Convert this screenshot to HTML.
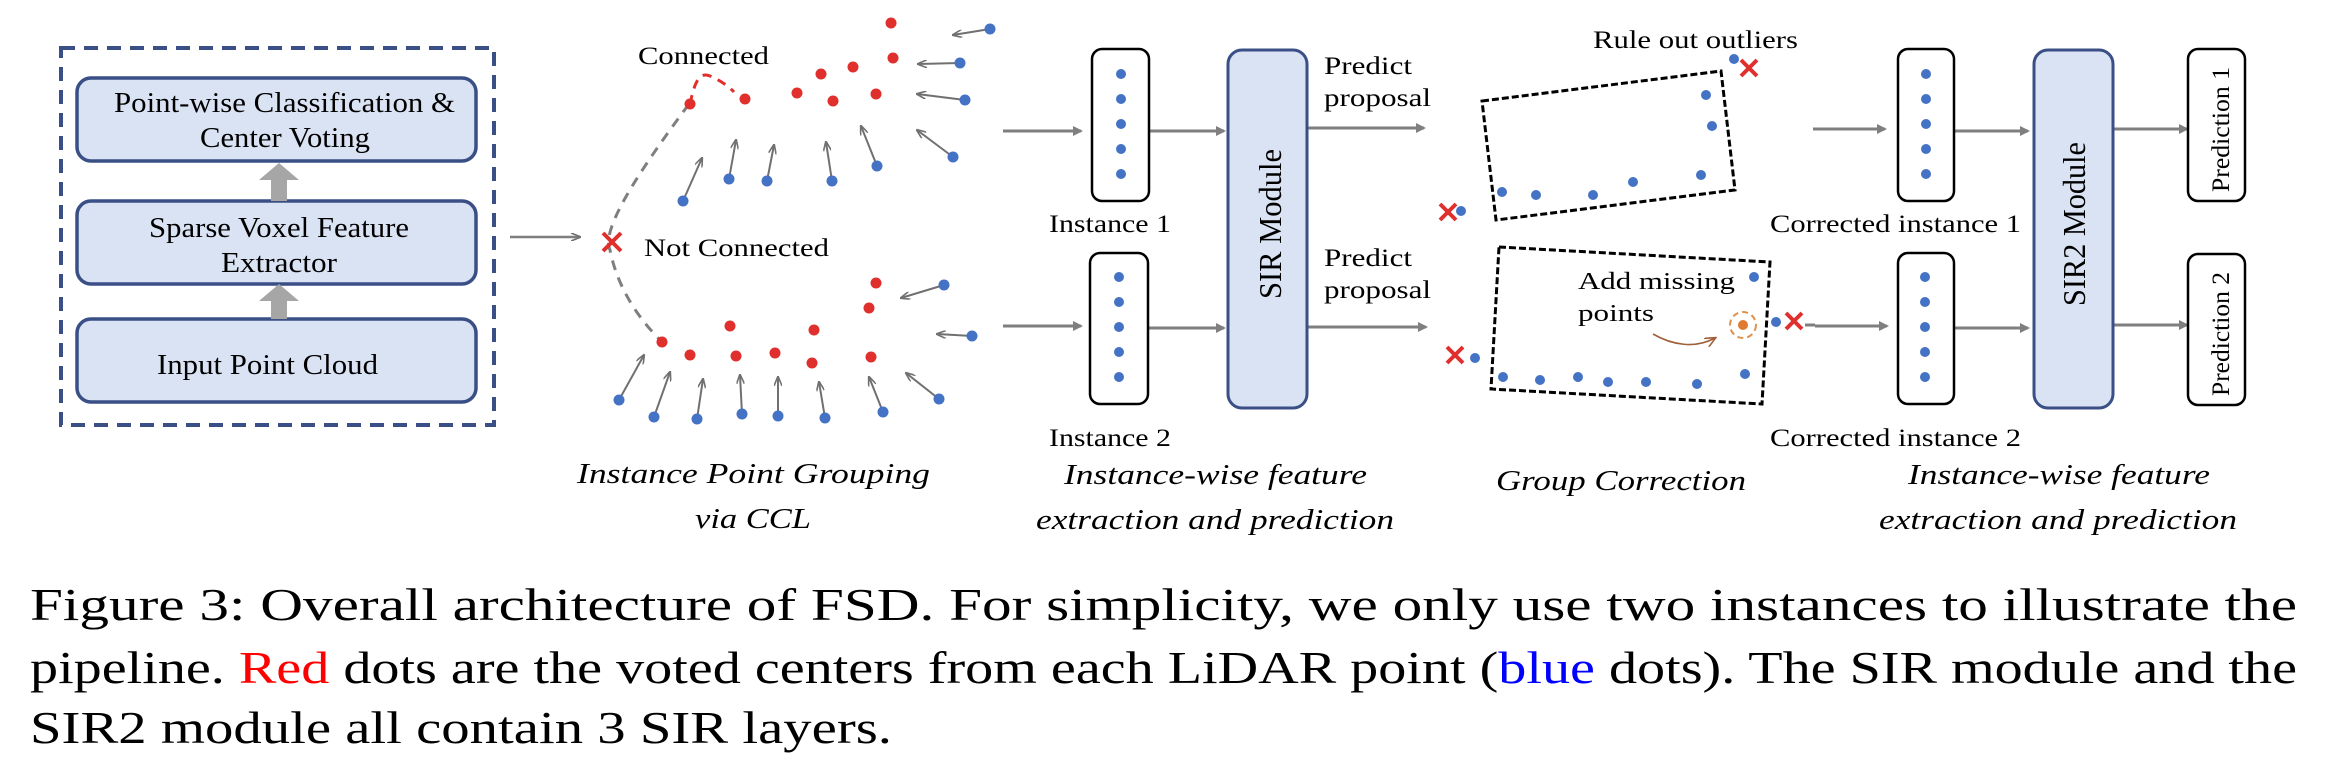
<!DOCTYPE html>
<html><head><meta charset="utf-8"><style>
html,body{margin:0;padding:0;background:#fff;}
svg{display:block;font-family:"Liberation Serif","Times New Roman",Times,serif;}
svg text{font-family:"Liberation Serif","Times New Roman",Times,serif;fill:#000;}
</style></head><body>
<svg width="2331" height="766" viewBox="0 0 2331 766" xmlns="http://www.w3.org/2000/svg" font-family="Liberation Serif, Times New Roman, serif">
<defs>
<marker id="ag" markerWidth="10" markerHeight="10" refX="8" refY="5" orient="auto" markerUnits="userSpaceOnUse"><path d="M0,0 L10,5 L0,10 z" fill="#7f7f7f"/></marker>
<marker id="as" markerWidth="10" markerHeight="8" refX="9" refY="4" orient="auto" markerUnits="userSpaceOnUse"><path d="M0,0 L10,4 L0,8" fill="none" stroke="#707070" stroke-width="1.6"/></marker>
<marker id="ab" markerWidth="12" markerHeight="10" refX="10" refY="5" orient="auto" markerUnits="userSpaceOnUse"><path d="M0,0 L11,5 L0,10" fill="none" stroke="#a0603a" stroke-width="1.6"/></marker>
</defs>

<rect x="61" y="48" width="433" height="377" fill="none" stroke="#3a4f85" stroke-width="4" stroke-dasharray="14,9"/>
<rect x="77" y="78" width="399" height="83" rx="14" fill="#dae3f3" stroke="#3a4f85" stroke-width="3.5"/>
<rect x="77" y="201" width="399" height="83" rx="14" fill="#dae3f3" stroke="#3a4f85" stroke-width="3.5"/>
<rect x="77" y="319" width="399" height="83" rx="14" fill="#dae3f3" stroke="#3a4f85" stroke-width="3.5"/>
<path d="M271,201 V180 H259 L279,163 L299,180 H287 V201 z" fill="#a6a6a6"/>
<path d="M271,319 V301 H259 L279,284 L299,301 H287 V319 z" fill="#a6a6a6"/>
<text x="114" y="112" font-size="28" textLength="341" lengthAdjust="spacingAndGlyphs">Point-wise Classification &amp;</text>
<text x="200" y="147" font-size="28" textLength="170" lengthAdjust="spacingAndGlyphs">Center Voting</text>
<text x="149" y="237" font-size="28" textLength="260" lengthAdjust="spacingAndGlyphs">Sparse Voxel Feature</text>
<text x="221" y="272" font-size="28" textLength="116" lengthAdjust="spacingAndGlyphs">Extractor</text>
<text x="157" y="374" font-size="28" textLength="221" lengthAdjust="spacingAndGlyphs">Input Point Cloud</text>

<line x1="510" y1="237" x2="580" y2="237" stroke="#7f7f7f" stroke-width="2.5" marker-end="url(#as)"/>

<path d="M689,104 C640,170 600,230 610,250 C618,290 640,320 662,342" fill="none" stroke="#7f7f7f" stroke-width="3" stroke-dasharray="10,8"/>
<path d="M690,104 C695,80 700,72 710,76 C720,80 728,86 734,92" fill="none" stroke="#e0302d" stroke-width="3" stroke-dasharray="9,7"/>
<g stroke="#e0302d" stroke-width="4"><line x1="603" y1="233" x2="621" y2="251"/><line x1="621" y1="233" x2="603" y2="251"/></g>
<text x="638" y="64" font-size="25" textLength="131" lengthAdjust="spacingAndGlyphs">Connected</text>
<text x="644" y="256" font-size="25" textLength="185" lengthAdjust="spacingAndGlyphs">Not Connected</text>

<g fill="#e0302d">
<circle cx="891" cy="23" r="5.5"/><circle cx="893" cy="58" r="5.5"/><circle cx="853" cy="67" r="5.5"/><circle cx="821" cy="74" r="5.5"/><circle cx="745" cy="99" r="5.5"/><circle cx="797" cy="93" r="5.5"/><circle cx="833" cy="101" r="5.5"/><circle cx="876" cy="94" r="5.5"/><circle cx="690" cy="104" r="5.5"/>
<circle cx="876" cy="283" r="5.5"/><circle cx="869" cy="308" r="5.5"/><circle cx="730" cy="326" r="5.5"/><circle cx="814" cy="330" r="5.5"/><circle cx="662" cy="342" r="5.5"/><circle cx="690" cy="355" r="5.5"/><circle cx="736" cy="356" r="5.5"/><circle cx="775" cy="353" r="5.5"/><circle cx="812" cy="363" r="5.5"/><circle cx="871" cy="357" r="5.5"/>
</g>
<g stroke="#707070" stroke-width="2" marker-end="url(#as)">
<line x1="990" y1="29" x2="953" y2="35"/><line x1="960" y1="63" x2="918" y2="64"/><line x1="965" y1="100" x2="917" y2="94"/><line x1="953" y1="157" x2="917" y2="130"/><line x1="877" y1="166" x2="861" y2="126"/><line x1="832" y1="181" x2="826" y2="142"/><line x1="767" y1="181" x2="774" y2="145"/><line x1="729" y1="179" x2="736" y2="140"/><line x1="683" y1="201" x2="702" y2="158"/>
<line x1="944" y1="285" x2="901" y2="298"/><line x1="972" y1="336" x2="937" y2="334"/><line x1="939" y1="399" x2="906" y2="373"/><line x1="883" y1="412" x2="869" y2="377"/><line x1="825" y1="418" x2="819" y2="382"/><line x1="778" y1="416" x2="778" y2="377"/><line x1="742" y1="414" x2="740" y2="375"/><line x1="697" y1="419" x2="703" y2="379"/><line x1="654" y1="417" x2="670" y2="372"/><line x1="619" y1="400" x2="644" y2="355"/>
</g>
<g fill="#4472c4">
<circle cx="990" cy="29" r="5.5"/><circle cx="960" cy="63" r="5.5"/><circle cx="965" cy="100" r="5.5"/><circle cx="953" cy="157" r="5.5"/><circle cx="877" cy="166" r="5.5"/><circle cx="832" cy="181" r="5.5"/><circle cx="767" cy="181" r="5.5"/><circle cx="729" cy="179" r="5.5"/><circle cx="683" cy="201" r="5.5"/>
<circle cx="944" cy="285" r="5.5"/><circle cx="972" cy="336" r="5.5"/><circle cx="939" cy="399" r="5.5"/><circle cx="883" cy="412" r="5.5"/><circle cx="825" cy="418" r="5.5"/><circle cx="778" cy="416" r="5.5"/><circle cx="742" cy="414" r="5.5"/><circle cx="697" cy="419" r="5.5"/><circle cx="654" cy="417" r="5.5"/><circle cx="619" cy="400" r="5.5"/>
</g>
<text x="577" y="483" font-size="29" font-style="italic" textLength="353" lengthAdjust="spacingAndGlyphs">Instance Point Grouping</text>
<text x="695" y="528" font-size="29" font-style="italic" textLength="116" lengthAdjust="spacingAndGlyphs">via CCL</text>

<g stroke="#7f7f7f" stroke-width="3" marker-end="url(#ag)">
<line x1="1003" y1="131" x2="1081" y2="131"/><line x1="1003" y1="326" x2="1081" y2="326"/>
<line x1="1149" y1="131" x2="1224" y2="131"/><line x1="1148" y1="328" x2="1224" y2="328"/>
<line x1="1307" y1="128" x2="1424" y2="128"/><line x1="1307" y1="327" x2="1426" y2="327"/>
<line x1="1813" y1="129" x2="1885" y2="129"/><line x1="1815" y1="326" x2="1887" y2="326"/>
<line x1="1955" y1="131" x2="2028" y2="131"/><line x1="1955" y1="328" x2="2028" y2="328"/>
<line x1="2113" y1="129" x2="2187" y2="129"/><line x1="2113" y1="325" x2="2187" y2="325"/>
</g>
<rect x="1092" y="49" width="57" height="152" rx="10" fill="#fff" stroke="#000" stroke-width="2.5"/>
<rect x="1090" y="253" width="58" height="151" rx="10" fill="#fff" stroke="#000" stroke-width="2.5"/>
<rect x="1898" y="49" width="56" height="152" rx="10" fill="#fff" stroke="#000" stroke-width="2.5"/>
<rect x="1898" y="253" width="56" height="151" rx="10" fill="#fff" stroke="#000" stroke-width="2.5"/>
<rect x="2188" y="49" width="57" height="152" rx="10" fill="#fff" stroke="#000" stroke-width="2.5"/>
<rect x="2188" y="254" width="57" height="151" rx="10" fill="#fff" stroke="#000" stroke-width="2.5"/>
<g fill="#4472c4">
<circle cx="1121" cy="74" r="5"/><circle cx="1121" cy="99" r="5"/><circle cx="1121" cy="124" r="5"/><circle cx="1121" cy="149" r="5"/><circle cx="1121" cy="174" r="5"/>
<circle cx="1119" cy="277" r="5"/><circle cx="1119" cy="302" r="5"/><circle cx="1119" cy="327" r="5"/><circle cx="1119" cy="352" r="5"/><circle cx="1119" cy="377" r="5"/>
<circle cx="1926" cy="74" r="5"/><circle cx="1926" cy="99" r="5"/><circle cx="1926" cy="124" r="5"/><circle cx="1926" cy="149" r="5"/><circle cx="1926" cy="174" r="5"/>
<circle cx="1925" cy="277" r="5"/><circle cx="1925" cy="302" r="5"/><circle cx="1925" cy="327" r="5"/><circle cx="1925" cy="352" r="5"/><circle cx="1925" cy="377" r="5"/>
</g>
<rect x="1228" y="50" width="79" height="358" rx="14" fill="#dae3f3" stroke="#3a4f85" stroke-width="3"/>
<rect x="2034" y="50" width="79" height="358" rx="14" fill="#dae3f3" stroke="#3a4f85" stroke-width="3"/>
<text transform="translate(1281,299) rotate(-90)" font-size="32" textLength="150" lengthAdjust="spacingAndGlyphs">SIR Module</text>
<text transform="translate(2085,306) rotate(-90)" font-size="32" textLength="164" lengthAdjust="spacingAndGlyphs">SIR2 Module</text>
<text transform="translate(2229,192) rotate(-90)" font-size="25" textLength="125" lengthAdjust="spacingAndGlyphs">Prediction 1</text>
<text transform="translate(2229,396) rotate(-90)" font-size="25" textLength="124" lengthAdjust="spacingAndGlyphs">Prediction 2</text>

<text x="1049" y="232" font-size="25" textLength="122" lengthAdjust="spacingAndGlyphs">Instance 1</text>
<text x="1049" y="446" font-size="25" textLength="122" lengthAdjust="spacingAndGlyphs">Instance 2</text>
<text x="1770" y="232" font-size="25" textLength="251" lengthAdjust="spacingAndGlyphs">Corrected instance 1</text>
<text x="1770" y="446" font-size="25" textLength="251" lengthAdjust="spacingAndGlyphs">Corrected instance 2</text>
<text x="1324" y="74" font-size="25" textLength="88" lengthAdjust="spacingAndGlyphs">Predict</text>
<text x="1324" y="106" font-size="25" textLength="107" lengthAdjust="spacingAndGlyphs">proposal</text>
<text x="1324" y="266" font-size="25" textLength="88" lengthAdjust="spacingAndGlyphs">Predict</text>
<text x="1324" y="298" font-size="25" textLength="107" lengthAdjust="spacingAndGlyphs">proposal</text>
<text x="1593" y="48" font-size="25" textLength="205" lengthAdjust="spacingAndGlyphs">Rule out outliers</text>

<polygon points="1482,101 1721,71 1735,190 1496,220" fill="none" stroke="#000" stroke-width="3" stroke-dasharray="7,3"/>
<polygon points="1499,247 1770,262 1762,404 1491,389" fill="none" stroke="#000" stroke-width="3" stroke-dasharray="7,3"/>
<g fill="#4472c4">
<circle cx="1706" cy="95" r="5"/><circle cx="1712" cy="126" r="5"/><circle cx="1701" cy="175" r="5"/><circle cx="1633" cy="182" r="5"/><circle cx="1593" cy="195" r="5"/><circle cx="1536" cy="195" r="5"/><circle cx="1502" cy="192" r="5"/>
<circle cx="1734" cy="59" r="5"/><circle cx="1461" cy="211" r="5"/>
<circle cx="1754" cy="277" r="5"/><circle cx="1503" cy="377" r="5"/><circle cx="1540" cy="380" r="5"/><circle cx="1578" cy="377" r="5"/><circle cx="1608" cy="382" r="5"/><circle cx="1646" cy="382" r="5"/><circle cx="1697" cy="384" r="5"/><circle cx="1745" cy="374" r="5"/>
<circle cx="1475" cy="358" r="5"/><circle cx="1776" cy="322" r="5"/>
</g>
<g stroke="#e0302d" stroke-width="4">
<line x1="1741" y1="60" x2="1757" y2="76"/><line x1="1757" y1="60" x2="1741" y2="76"/>
<line x1="1440" y1="204" x2="1456" y2="220"/><line x1="1456" y1="204" x2="1440" y2="220"/>
<line x1="1447" y1="347" x2="1463" y2="363"/><line x1="1463" y1="347" x2="1447" y2="363"/>
<line x1="1786" y1="313" x2="1802" y2="329"/><line x1="1802" y1="313" x2="1786" y2="329"/>
</g>
<line x1="1805" y1="325" x2="1815" y2="325" stroke="#7f7f7f" stroke-width="3"/>
<circle cx="1743" cy="325" r="13" fill="none" stroke="#e0904a" stroke-width="2" stroke-dasharray="6,4"/>
<circle cx="1743" cy="325" r="5" fill="#e07a30"/>
<path d="M1653,334 C1672,345 1695,349 1715,338" fill="none" stroke="#a0603a" stroke-width="1.6" marker-end="url(#ab)"/>
<text x="1578" y="289" font-size="24" textLength="157" lengthAdjust="spacingAndGlyphs">Add missing</text>
<text x="1578" y="321" font-size="24" textLength="76" lengthAdjust="spacingAndGlyphs">points</text>

<text x="1064" y="484" font-size="29" font-style="italic" textLength="303" lengthAdjust="spacingAndGlyphs">Instance-wise feature</text>
<text x="1036" y="529" font-size="29" font-style="italic" textLength="358" lengthAdjust="spacingAndGlyphs">extraction and prediction</text>
<text x="1496" y="490" font-size="29" font-style="italic" textLength="250" lengthAdjust="spacingAndGlyphs">Group Correction</text>
<text x="1908" y="484" font-size="29" font-style="italic" textLength="302" lengthAdjust="spacingAndGlyphs">Instance-wise feature</text>
<text x="1879" y="529" font-size="29" font-style="italic" textLength="358" lengthAdjust="spacingAndGlyphs">extraction and prediction</text>

<text x="30" y="620" font-size="46" textLength="2267" lengthAdjust="spacingAndGlyphs">Figure 3: Overall architecture of FSD. For simplicity, we only use two instances to illustrate the</text>
<text x="30" y="683" font-size="46" textLength="2267" lengthAdjust="spacingAndGlyphs">pipeline. <tspan fill="#ff0000">Red</tspan> dots are the voted centers from each LiDAR point (<tspan fill="#0000ff">blue</tspan> dots). The SIR module and the</text>
<text x="30" y="743" font-size="46" textLength="862" lengthAdjust="spacingAndGlyphs">SIR2 module all contain 3 SIR layers.</text>
</svg>
</body></html>
